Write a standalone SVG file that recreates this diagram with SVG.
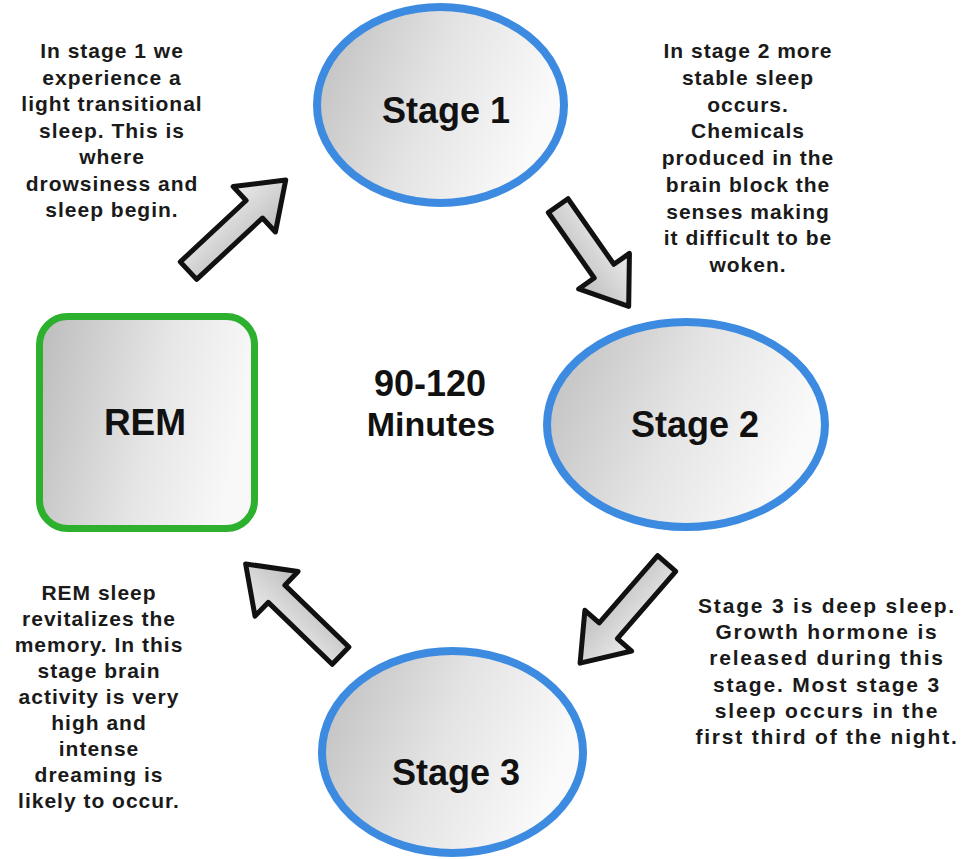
<svg xmlns="http://www.w3.org/2000/svg" width="963" height="859" viewBox="0 0 963 859">
<defs>
<linearGradient id="gEll" x1="0" y1="0" x2="1" y2="0.3">
<stop offset="0" stop-color="#bdbdbd"/>
<stop offset="0.55" stop-color="#e4e4e4"/>
<stop offset="1" stop-color="#fafafa"/>
</linearGradient>
<linearGradient id="gBox" x1="0" y1="0" x2="1" y2="0.2">
<stop offset="0" stop-color="#bcbcbc"/>
<stop offset="0.6" stop-color="#e6e6e6"/>
<stop offset="1" stop-color="#f8f8f8"/>
</linearGradient>
<linearGradient id="gArr" x1="0" y1="0" x2="0" y2="1">
<stop offset="0" stop-color="#ececec"/>
<stop offset="1" stop-color="#bdbdbd"/>
</linearGradient>
</defs>
<style>
.ell{fill:url(#gEll);stroke:#3d8be0;stroke-width:8}
.box{fill:url(#gBox);stroke:#2db02d;stroke-width:7}
.arr{fill:url(#gArr);stroke:#111;stroke-width:5;stroke-linejoin:round}
.lbl{font-family:"Liberation Sans",Arial,sans-serif;font-weight:bold;fill:#111;text-anchor:middle}
.txt{font-family:"Liberation Sans",Arial,sans-serif;font-weight:bold;font-size:21px;fill:#1a1a1a;text-anchor:middle;letter-spacing:1px}
.wide{letter-spacing:1.8px}
</style>
<rect width="963" height="859" fill="#ffffff"/>

<g id="connectors">
<path class="arr" transform="translate(187,272) rotate(-43)" d="M 2,-12 L 92,-12 L 92,-31 L 135,0 L 92,31 L 92,12 L 2,12 Z"/>
<path class="arr" transform="translate(557,204) rotate(55)" d="M 2,-12 L 82,-12 L 82,-31 L 125,0 L 82,31 L 82,12 L 2,12 Z"/>
<path class="arr" transform="translate(668,562) rotate(131)" d="M 2,-12 L 91,-12 L 91,-31 L 134,0 L 91,31 L 91,12 L 2,12 Z"/>
<path class="arr" transform="translate(342,657) rotate(-136)" d="M 2,-12 L 91,-12 L 91,-31 L 134,0 L 91,31 L 91,12 L 2,12 Z"/>
</g>

<g id="stage1">
<ellipse class="ell" cx="440.5" cy="105" rx="123.5" ry="98"/>
<text class="lbl" x="446" y="123" font-size="36">Stage 1</text>
</g>

<g id="stage2">
<ellipse class="ell" cx="686" cy="424.5" rx="139" ry="102.5"/>
<text class="lbl" x="695" y="437" font-size="36">Stage 2</text>
</g>

<g id="stage3">
<ellipse class="ell" cx="452.5" cy="752" rx="130.5" ry="101"/>
<text class="lbl" x="456" y="785" font-size="36">Stage 3</text>
</g>

<g id="rem">
<rect class="box" x="39.5" y="316.5" width="215" height="212" rx="28"/>
<text class="lbl" x="145" y="435" font-size="37">REM</text>
</g>

<g id="center">
<text class="lbl" x="430" y="396" font-size="36">90-120</text>
<text class="lbl" x="431" y="436" font-size="34">Minutes</text>
</g>

<g id="note-stage1">
<text class="txt" x="112" y="58">In stage 1 we</text>
<text class="txt" x="112" y="84.5">experience a</text>
<text class="txt" x="112" y="111">light transitional</text>
<text class="txt" x="112" y="137.5">sleep. This is</text>
<text class="txt" x="112" y="164">where</text>
<text class="txt" x="112" y="190.5">drowsiness and</text>
<text class="txt" x="112" y="217">sleep begin.</text>
</g>

<g id="note-stage2">
<text class="txt" x="748" y="58">In stage 2 more</text>
<text class="txt" x="748" y="84.8">stable sleep</text>
<text class="txt" x="748" y="111.5">occurs.</text>
<text class="txt" x="748" y="138.3">Chemicals</text>
<text class="txt" x="748" y="165">produced in the</text>
<text class="txt" x="748" y="191.8">brain block the</text>
<text class="txt" x="748" y="218.5">senses making</text>
<text class="txt" x="748" y="245.3">it difficult to be</text>
<text class="txt" x="748" y="272">woken.</text>
</g>

<g id="note-stage3">
<text class="txt wide" x="827" y="613">Stage 3 is deep sleep.</text>
<text class="txt wide" x="827" y="639.2">Growth hormone is</text>
<text class="txt wide" x="827" y="665.4">released during this</text>
<text class="txt wide" x="827" y="691.6">stage. Most stage 3</text>
<text class="txt wide" x="827" y="717.8">sleep occurs in the</text>
<text class="txt wide" x="827" y="744">first third of the night.</text>
</g>

<g id="note-rem">
<text class="txt" x="99" y="600">REM sleep</text>
<text class="txt" x="99" y="626">revitalizes the</text>
<text class="txt" x="99" y="652">memory. In this</text>
<text class="txt" x="99" y="678">stage brain</text>
<text class="txt" x="99" y="704">activity is very</text>
<text class="txt" x="99" y="730">high and</text>
<text class="txt" x="99" y="756">intense</text>
<text class="txt" x="99" y="782">dreaming is</text>
<text class="txt" x="99" y="808">likely to occur.</text>
</g>
</svg>
